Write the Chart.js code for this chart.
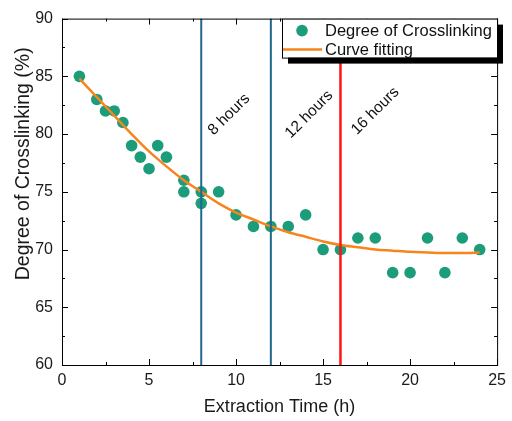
<!DOCTYPE html>
<html>
<head>
<meta charset="utf-8">
<script src="https://cdn.jsdelivr.net/npm/chart.js@4.4.0/dist/chart.umd.min.js"></script>
<style>
  html, body { margin: 0; padding: 0; background: #fff; }
  #wrap { width: 512px; height: 421px; }
</style>
</head>
<body>
<div id="wrap"><canvas id="chart" width="512" height="421"></canvas></div>
<script>
// measured points
const times = [1, 2, 2.5, 3, 3.5, 4, 4.5, 5, 5.5, 6, 7, 7, 8, 8, 9, 10, 11, 12, 13, 14, 15, 16, 17, 18, 19, 20, 21, 22, 23, 24];
const crosslinking = [85, 83, 82, 82, 81, 79, 78, 77, 79, 78, 76, 75, 75, 74, 75, 73, 72, 72, 72, 73, 70, 70, 71, 71, 68, 68, 71, 68, 71, 70];

// fitted curve
const fitTimes = [1, 2, 3, 4, 5, 6, 7, 8, 9, 10, 11, 12, 13, 14, 15, 16, 17, 18, 19, 20, 21, 22, 23, 24];
const fitValues = [84.8, 83.2, 81.6, 80.0, 78.5, 77.2, 76.0, 75.0, 74.0, 73.2, 72.6, 72.0, 71.5, 71.1, 70.7, 70.4, 70.2, 70.0, 69.9, 69.8, 69.75, 69.7, 69.7, 69.75];

// vertical markers
const markerHours = [8, 12, 16];
const markerLabels = ['8 hours', '12 hours', '16 hours'];
const markerColors = ['#22688b', '#22688b', '#ff1414'];
const markerLabelAt = [[9.6, 81.7], [14.2, 81.7], [18.0, 82.0]];

const pointColor = '#1b9c7a';
const curveColor = '#f7851f';
const fontFamily = 'Arial, "Liberation Sans", sans-serif';

Chart.defaults.font.family = fontFamily;
Chart.defaults.color = '#1a1a1a';

const markerSets = markerHours.map(function (h, i) {
    return {
        label: markerLabels[i],
        data: [{x: h, y: 60}, {x: h, y: 90}],
        showLine: true,
        borderColor: markerColors[i],
        borderWidth: i === 2 ? 2.5 : 2,
        pointRadius: 0,
        inLegend: false
    };
});

const datasets = markerSets.concat([
    {
        label: 'Curve fitting',
        data: fitTimes.map((t, i) => ({x: t, y: fitValues[i]})),
        showLine: true,
        borderColor: curveColor,
        borderWidth: 2.5,
        pointRadius: 0,
        cubicInterpolationMode: 'monotone',
        inLegend: true
    },
    {
        label: 'Degree of Crosslinking',
        data: times.map((t, i) => ({x: t, y: crosslinking[i]})),
        backgroundColor: pointColor,
        borderColor: pointColor,
        pointRadius: 5.8,
        borderWidth: 0,
        inLegend: true
    }
]);

// frame + inward ticks (major every 5, minor every 2.5)
const frameTicks = {
    id: 'frameTicks',
    afterDatasetsDraw(chart) {
        const {ctx, chartArea: a, scales} = chart;
        ctx.save();
        ctx.strokeStyle = '#000';
        ctx.lineWidth = 1;
        ctx.strokeRect(a.left + 0.5, a.top + 0.5, a.right - a.left, a.bottom - a.top);
        ctx.beginPath();
        for (let v = 0; v <= 25; v += 2.5) {
            const px = Math.round(scales.x.getPixelForValue(v)) + 0.5;
            const len = v % 5 === 0 ? 6 : 3;
            ctx.moveTo(px, a.bottom); ctx.lineTo(px, a.bottom - len);
            ctx.moveTo(px, a.top); ctx.lineTo(px, a.top + len);
        }
        for (let v = 60; v <= 90; v += 2.5) {
            const py = Math.round(scales.y.getPixelForValue(v)) + 0.5;
            const len = v % 5 === 0 ? 6 : 3;
            ctx.moveTo(a.left, py); ctx.lineTo(a.left + len, py);
            ctx.moveTo(a.right, py); ctx.lineTo(a.right - len, py);
        }
        ctx.stroke();

        // rotated marker labels
        ctx.fillStyle = '#111';
        ctx.font = '15.5px ' + fontFamily;
        ctx.textAlign = 'center';
        ctx.textBaseline = 'middle';
        markerLabels.forEach(function (txt, i) {
            const px = scales.x.getPixelForValue(markerLabelAt[i][0]);
            const py = scales.y.getPixelForValue(markerLabelAt[i][1]);
            ctx.save();
            ctx.translate(px, py);
            ctx.rotate(-Math.PI / 4);
            ctx.fillText(txt, 0, 0);
            ctx.restore();
        });

        // y axis title
        ctx.save();
        ctx.font = '19.5px ' + fontFamily;
        ctx.fillStyle = '#1a1a1a';
        ctx.translate(24, (a.top + a.bottom) / 2 - 28);
        ctx.rotate(-Math.PI / 2);
        ctx.fillText('Degree of Crosslinking (%)', 0, 0);
        ctx.restore();
        ctx.restore();
    }
};

// boxed legend with a drop shadow, top right
const boxLegend = {
    id: 'boxLegend',
    afterDraw(chart) {
        const {ctx, chartArea: a} = chart;
        const items = chart.data.datasets.filter(d => d.inLegend).reverse();
        const x = 282, y = a.top, w = 215, h = 39;
        ctx.save();
        ctx.fillStyle = '#000';
        ctx.fillRect(x + 6, y + 6, w, h);
        ctx.fillStyle = '#fff';
        ctx.fillRect(x, y, w, h);
        ctx.strokeStyle = '#000';
        ctx.lineWidth = 1;
        ctx.strokeRect(x + 0.5, y + 0.5, w, h);
        ctx.font = '16.5px ' + fontFamily;
        ctx.textBaseline = 'middle';
        ctx.textAlign = 'left';
        items.forEach(function (d, i) {
            const ry = y + 12 + i * 19;
            if (d.showLine) {
                ctx.strokeStyle = d.borderColor;
                ctx.lineWidth = d.borderWidth;
                ctx.beginPath();
                ctx.moveTo(x + 1, ry); ctx.lineTo(x + 40, ry);
                ctx.stroke();
            } else {
                ctx.fillStyle = d.backgroundColor;
                ctx.beginPath();
                ctx.arc(x + 20, ry, 5.8, 0, Math.PI * 2);
                ctx.fill();
            }
            ctx.fillStyle = '#111';
            ctx.fillText(d.label, x + 43, ry + 1);
        });
        ctx.restore();
    }
};

new Chart(document.getElementById('chart'), {
    type: 'scatter',
    data: {datasets: datasets},
    options: {
        responsive: false,
        animation: false,
        layout: {padding: {left: 0, top: 12, right: 11, bottom: 0}},
        plugins: {
            legend: {display: false},
            tooltip: {enabled: false}
        },
        scales: {
            x: {
                type: 'linear',
                min: 0,
                max: 25,
                grid: {display: false, drawTicks: false},
                border: {display: false},
                ticks: {stepSize: 5, padding: 6, font: {size: 16}, color: '#1a1a1a'},
                title: {
                    display: true,
                    text: 'Extraction Time (h)',
                    font: {size: 18},
                    color: '#1a1a1a',
                    padding: {top: 0, bottom: 3}
                },
                afterFit: function (s) { s.height = 56; }
            },
            y: {
                min: 60,
                max: 90,
                grid: {display: false, drawTicks: false},
                border: {display: false},
                ticks: {stepSize: 5, padding: 9, font: {size: 16}, color: '#1a1a1a'},
                afterFit: function (s) { s.width = 62; }
            }
        }
    },
    plugins: [frameTicks, boxLegend]
});
</script>
</body>
</html>
